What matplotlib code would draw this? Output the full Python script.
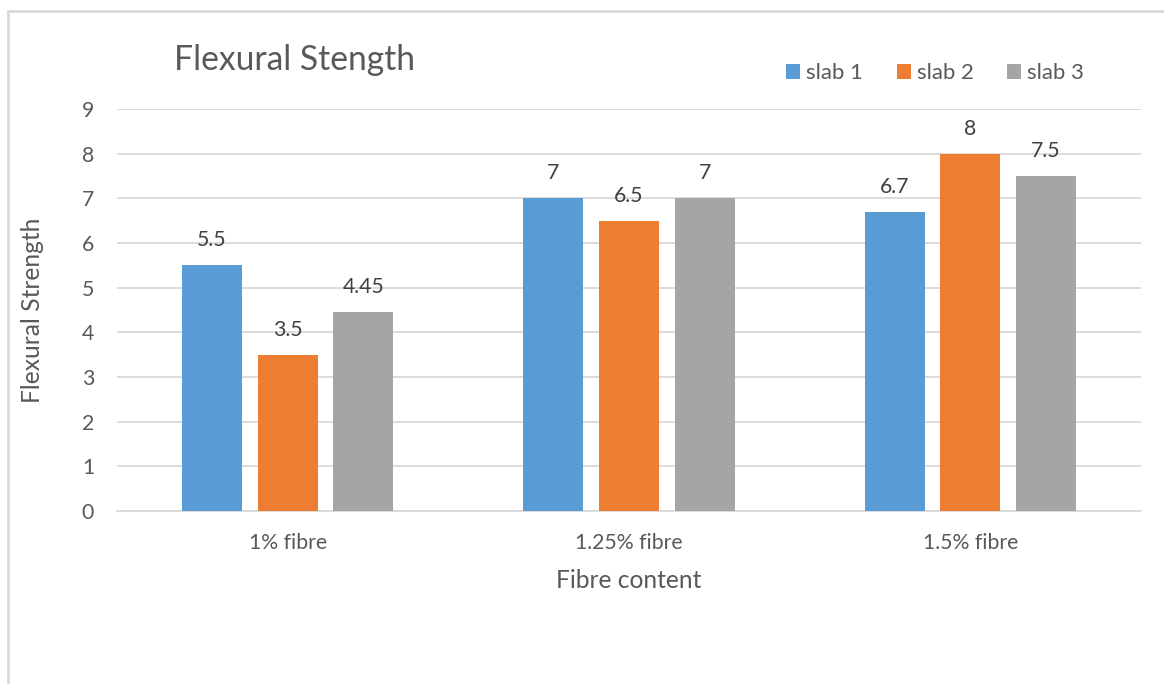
import matplotlib
matplotlib.use("Agg")
import matplotlib.pyplot as plt
from matplotlib.patches import Rectangle
import numpy as np

categories = ["1% fibre", "1.25% fibre", "1.5% fibre"]
series_names = ["slab 1", "slab 2", "slab 3"]
slab1 = [5.5, 7, 6.7]
slab2 = [3.5, 6.5, 8]
slab3 = [4.45, 7, 7.5]
labels1 = ["5.5", "7", "6.7"]
labels2 = ["3.5", "6.5", "8"]
labels3 = ["4.45", "7", "7.5"]
colors = ["#5b9bd5", "#ed7d31", "#a5a5a5"]

plt.rcParams['font.family'] = ['Lato', 'DejaVu Sans']
text_col = "#595959"
grid_col = "#d9d9d9"

W, H = 1164, 684
fig = plt.figure(figsize=(W / 100, H / 100), dpi=100)
fig.patch.set_facecolor("white")

# chart frame
fig.patches.append(Rectangle((8 / W, -0.05), 1.2, 1 - 11 / H + 0.05,
                             transform=fig.transFigure, fill=False,
                             edgecolor=grid_col, linewidth=2, zorder=0))

ax = fig.add_axes([117 / W, 1 - 511 / H, (1141 - 117) / W, (511 - 109) / H])
x = np.arange(len(categories))
width = 0.176
step = 0.222
all_series = [(slab1, labels1), (slab2, labels2), (slab3, labels3)]
for i, ((vals, labs), name, c) in enumerate(zip(all_series, series_names, colors)):
    bars = ax.bar(x + (i - 1) * step, vals, width, color=c, label=name, zorder=3)
    for b, lab in zip(bars, labs):
        ax.annotate(lab, (b.get_x() + b.get_width() / 2, b.get_height()),
                    xytext=(0, 18), textcoords="offset points",
                    ha="center", va="center", fontsize=15.3, color="#404040")

ax.set_xlim(-0.5, 2.5)
ax.set_ylim(0, 9)
ax.set_yticks(range(0, 10))
ax.set_xticks(x)
ax.set_xticklabels(categories)
ax.tick_params(axis="both", length=0, labelsize=15.3, colors=text_col)
ax.tick_params(axis="x", pad=16)
ax.tick_params(axis="y", pad=16.5)
ax.grid(axis="y", color=grid_col, linewidth=1.3, zorder=0)
for s in ["top", "right", "left"]:
    ax.spines[s].set_visible(False)
ax.spines["bottom"].set_color(grid_col)
ax.spines["bottom"].set_linewidth(1.3)

fig.text(629 / W, 1 - 581 / H, "Fibre content", ha="center", va="center",
         fontsize=17.7, color=text_col)
fig.text(33 / W, 1 - 310 / H, "Flexural Strength", rotation=90,
         ha="center", va="center", fontsize=17.7, color=text_col)
fig.text(174 / W, 1 - 60 / H, "Flexural Stength", ha="left", va="center",
         fontsize=24.2, color=text_col)

leg = fig.legend(loc="center left", bbox_to_anchor=(786 / W, 1 - 73 / H),
                 ncol=3, frameon=False, fontsize=15.9, handlelength=0.64,
                 handleheight=0.64, handletextpad=0.27, columnspacing=1.52,
                 borderpad=0, borderaxespad=0)
for t in leg.get_texts():
    t.set_color(text_col)

fig.savefig("out.png", dpi=100, facecolor="white")
